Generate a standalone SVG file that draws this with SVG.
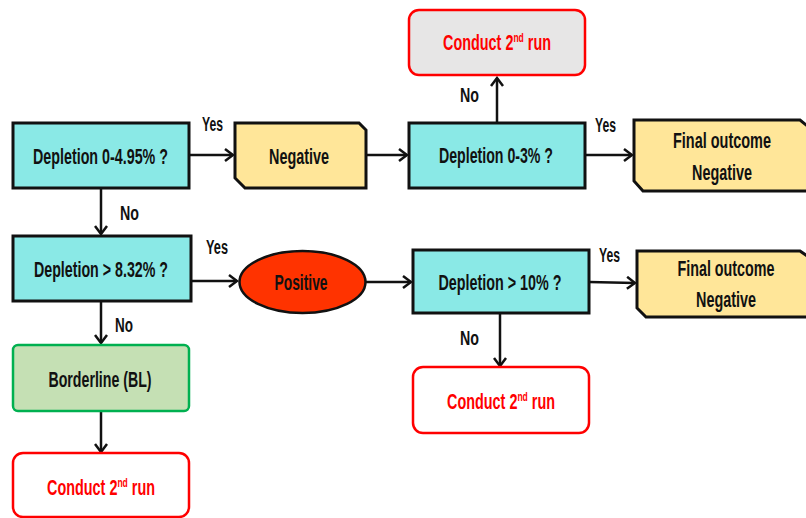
<svg xmlns="http://www.w3.org/2000/svg" width="806" height="518" viewBox="0 0 806 518">
<defs>
<style>
text{font-family:"Liberation Sans",Arial,sans-serif;font-weight:bold;font-size:22px;fill:#111;text-anchor:middle}
.lbl{font-size:20px;text-anchor:start}
.red{fill:#FF0000}
.q{fill:#8AE9E6;stroke:#111;stroke-width:3}
.y{fill:#FFE699;stroke:#111;stroke-width:3}
.c{fill:#FFFFFF;stroke:#FF0000;stroke-width:2.5}
.cg{fill:#E7E6E6;stroke:#FF0000;stroke-width:2.5}
.bl{fill:#C5E0B4;stroke:#00B050;stroke-width:2.5}
.pos{fill:#FF3300;stroke:#111;stroke-width:2.5}
.ln{stroke:#111;stroke-width:2.5;fill:none}
.ar{marker-end:url(#ah)}
</style>
<marker id="ah" markerWidth="12" markerHeight="14" refX="10" refY="7" orient="auto" markerUnits="userSpaceOnUse">
<path d="M2,1 L10,7 L2,13" fill="none" stroke="#111" stroke-width="2.5"/>
</marker>
</defs>

<g id="connectors">
<line class="ln ar" x1="189" y1="155" x2="233" y2="155"/>
<line class="ln ar" x1="366" y1="155" x2="407" y2="155"/>
<line class="ln ar" x1="497" y1="123" x2="497" y2="78"/>
<line class="ln ar" x1="585" y1="155" x2="632" y2="155"/>
<line class="ln ar" x1="101" y1="188" x2="101" y2="234"/>
<line class="ln ar" x1="191" y1="281" x2="237" y2="281"/>
<line class="ln ar" x1="366" y1="282" x2="411" y2="282"/>
<line class="ln ar" x1="589" y1="282" x2="635" y2="283"/>
<line class="ln ar" x1="500" y1="313" x2="500" y2="366"/>
<line class="ln ar" x1="101" y1="301" x2="101" y2="343"/>
<line class="ln ar" x1="101" y1="411" x2="101" y2="452"/>
<text class="lbl" x="202" y="131" textLength="21" lengthAdjust="spacingAndGlyphs">Yes</text>
<text class="lbl" x="120" y="220" textLength="19" lengthAdjust="spacingAndGlyphs">No</text>
<text class="lbl" x="460" y="102" textLength="19" lengthAdjust="spacingAndGlyphs">No</text>
<text class="lbl" x="595" y="132" textLength="21" lengthAdjust="spacingAndGlyphs">Yes</text>
<text class="lbl" x="206" y="254" textLength="22" lengthAdjust="spacingAndGlyphs">Yes</text>
<text class="lbl" x="115" y="332" textLength="18" lengthAdjust="spacingAndGlyphs">No</text>
<text class="lbl" x="599" y="262" textLength="21" lengthAdjust="spacingAndGlyphs">Yes</text>
<text class="lbl" x="460" y="345" textLength="19" lengthAdjust="spacingAndGlyphs">No</text>
</g>

<g id="q1">
<rect class="q" x="13" y="123" width="176" height="65"/>
<text x="100.5" y="164" textLength="135" lengthAdjust="spacingAndGlyphs">Depletion 0-4.95% ?</text>
</g>

<g id="neg1">
<path class="y" d="M235,123 H359 L366,130 V188 H245 L235,178 Z"/>
<text x="299" y="164" textLength="60" lengthAdjust="spacingAndGlyphs">Negative</text>
</g>

<g id="q2">
<rect class="q" x="409" y="123" width="176" height="65"/>
<text x="496" y="163" textLength="114" lengthAdjust="spacingAndGlyphs">Depletion 0-3% ?</text>
</g>

<g id="run1">
<rect class="cg" x="409" y="10" width="176" height="65" rx="10"/>
<text class="red" x="497" y="50" textLength="108" lengthAdjust="spacingAndGlyphs">Conduct 2<tspan font-size="13" dy="-8">nd</tspan><tspan dy="8"> run</tspan></text>
</g>

<g id="final1">
<path class="y" d="M634,120 H800 L810,128 V191 H643 L634,181 Z"/>
<text x="722" y="148" textLength="98" lengthAdjust="spacingAndGlyphs">Final outcome</text>
<text x="722" y="180" textLength="60" lengthAdjust="spacingAndGlyphs">Negative</text>
</g>

<g id="q3">
<rect class="q" x="13" y="236" width="178" height="65"/>
<text x="101" y="277" textLength="134" lengthAdjust="spacingAndGlyphs">Depletion &gt; 8.32% ?</text>
</g>

<g id="positive">
<ellipse class="pos" cx="302.5" cy="282" rx="63" ry="31"/>
<text x="301" y="290" textLength="53" lengthAdjust="spacingAndGlyphs">Positive</text>
</g>

<g id="q4">
<rect class="q" x="413" y="250" width="176" height="63"/>
<text x="500" y="290" textLength="123" lengthAdjust="spacingAndGlyphs">Depletion &gt; 10% ?</text>
</g>

<g id="final2">
<path class="y" d="M637,251 H800 L810,258 V317 H646 L637,308 Z"/>
<text x="726" y="276" textLength="97" lengthAdjust="spacingAndGlyphs">Final outcome</text>
<text x="726" y="307" textLength="60" lengthAdjust="spacingAndGlyphs">Negative</text>
</g>

<g id="run2">
<rect class="c" x="413" y="367" width="176" height="66" rx="10"/>
<text class="red" x="501" y="409" textLength="108" lengthAdjust="spacingAndGlyphs">Conduct 2<tspan font-size="13" dy="-8">nd</tspan><tspan dy="8"> run</tspan></text>
</g>

<g id="borderline">
<rect class="bl" x="13" y="345" width="176" height="66" rx="5"/>
<text x="100" y="387" textLength="103" lengthAdjust="spacingAndGlyphs">Borderline (BL)</text>
</g>

<g id="run3">
<rect class="c" x="13" y="453" width="176" height="64" rx="10"/>
<text class="red" x="101" y="495" textLength="108" lengthAdjust="spacingAndGlyphs">Conduct 2<tspan font-size="13" dy="-8">nd</tspan><tspan dy="8"> run</tspan></text>
</g>
</svg>
